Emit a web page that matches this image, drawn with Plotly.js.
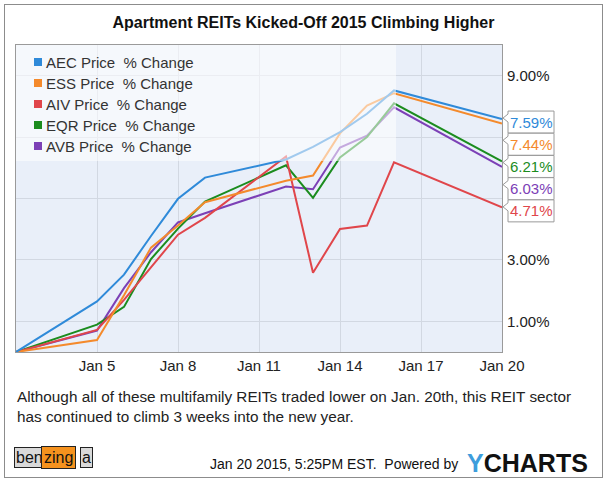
<!DOCTYPE html>
<html>
<head>
<meta charset="utf-8">
<script src="https://cdn.plot.ly/plotly-3.0.1.min.js"></script>
<style>
html,body{margin:0;padding:0;background:#fff;}
#wrap{position:relative;width:607px;height:482px;}
#chart{width:607px;height:482px;}
#frame{position:absolute;left:4px;top:4px;width:597px;height:472px;border:1px solid #8c8c8c;pointer-events:none;}
</style>
</head>
<body>
<div id="wrap"><div id="chart"></div><div id="frame"></div></div>
<script>
// ---- data ----
const dates = ['2015-01-02','2015-01-05','2015-01-06','2015-01-07','2015-01-08','2015-01-09','2015-01-12','2015-01-13','2015-01-14','2015-01-15','2015-01-16','2015-01-20'];
const seriesNames = ['AEC Price  % Change','ESS Price  % Change','AIV Price  % Change','EQR Price  % Change','AVB Price  % Change'];
const aec = [0, 1.65, 2.52, 3.78, 4.99, 5.68, 6.27, 6.68, 7.16, 7.76, 8.52, 7.59];
const ess = [0, 0.39, 1.85, 3.40, 4.12, 4.88, 5.58, 5.75, 7.12, 8.03, 8.43, 7.44];
const aiv = [0, 0.72, 1.70, 2.76, 3.82, 4.37, 6.37, 2.58, 4.01, 4.12, 6.18, 4.71];
const eqr = [0, 0.89, 1.47, 3.03, 4.02, 4.90, 6.08, 5.02, 6.34, 7.00, 8.10, 6.21];
const avb = [0, 0.70, 2.08, 3.25, 4.22, 4.52, 5.39, 5.30, 6.66, 7.05, 7.97, 6.03];
const yTickVals = [1, 3, 5, 7, 9];
const yTickText = ['1.00%', '3.00%', '', '', '9.00%'];
const xTickVals = ['2015-01-05','2015-01-08','2015-01-11','2015-01-14','2015-01-17','2015-01-20'];
const xTickText = ['Jan 5','Jan 8','Jan 11','Jan 14','Jan 17','Jan 20'];

// ---- styles ----
const colors = ['#2f8ad9', '#f48a2c', '#e0464b', '#1b8c1e', '#7c40b6'];
const allSeries = [aec, ess, aiv, eqr, avb];

const W = 607, H = 482;
const M = {l: 16, r: 105, t: 45, b: 130};
const PW = W - M.l - M.r, PH = H - M.t - M.b;
const px2x = p => (p - M.l) / PW;          // pixel -> paper x
const py2y = p => (H - M.b - p) / PH;      // pixel -> paper y

const traces = [];
// draw order: reverse so AEC is on top
for (let i = allSeries.length - 1; i >= 0; i--) {
  traces.push({
    type: 'scatter', mode: 'lines', name: seriesNames[i],
    x: dates, y: allSeries[i],
    line: {color: colors[i], width: 2},
    hoverinfo: 'skip', showlegend: false
  });
}

const shapes = [];
const annotations = [];

// semi-transparent legend panel over the data
shapes.push({type: 'rect', xref: 'paper', yref: 'paper', layer: 'above',
  x0: 0, x1: px2x(396), y0: py2y(161), y1: 1,
  fillcolor: 'rgba(255,255,255,0.55)', line: {width: 0}});

// custom legend
seriesNames.forEach((nm, i) => {
  const cy = 62 + i * 21;
  shapes.push({type: 'rect', xref: 'paper', yref: 'paper', layer: 'above',
    x0: px2x(34), x1: px2x(42), y0: py2y(cy + 4), y1: py2y(cy - 4),
    fillcolor: colors[i], line: {width: 0}});
  annotations.push({xref: 'paper', yref: 'paper', x: px2x(44), y: py2y(cy),
    xanchor: 'left', yanchor: 'middle', showarrow: false, text: nm,
    font: {family: 'Liberation Sans, Arial, sans-serif', size: 15, color: '#333'}});
});

// last-value labels on the right, stacked to avoid overlap
const lastVals = allSeries.map(s => s[s.length - 1]);
const order = lastVals.map((v, i) => i).sort((a, b) => lastVals[b] - lastVals[a]);
const gap = 22.2 * 10 / PH;
let prev = null;
order.forEach(i => {
  let pos = lastVals[i] - 0.1;
  if (prev !== null) pos = Math.min(pos, prev - gap);
  prev = pos;
  shapes.push({type: 'path', xref: 'paper', yref: 'y', layer: 'above',
    xsizemode: 'pixel', ysizemode: 'pixel', xanchor: 1, yanchor: pos,
    path: 'M6,11 L52,11 L52,-11 L6,-11 L6,0 L1,4 L6,8 Z',
    fillcolor: '#ffffff', line: {color: '#9a9a9a', width: 1}});
  annotations.push({xref: 'paper', yref: 'y', x: px2x(531), y: pos,
    xanchor: 'center', yanchor: 'middle', showarrow: false,
    text: lastVals[i].toFixed(2) + '%',
    font: {family: 'Liberation Sans Narrow, Arial Narrow, Arial, sans-serif', size: 15, color: colors[i]}});
});

// caption
annotations.push({xref: 'paper', yref: 'paper', x: px2x(15), y: py2y(406),
  xanchor: 'left', yanchor: 'middle', showarrow: false, align: 'left',
  text: 'Although all of these multifamily REITs traded lower on Jan. 20th, this REIT sector<br>has continued to climb 3 weeks into the new year.',
  font: {family: 'Liberation Sans, Arial, sans-serif', size: 15.3, color: '#222'}});

// footer
annotations.push({xref: 'paper', yref: 'paper', x: px2x(460), y: py2y(464),
  xanchor: 'right', yanchor: 'middle', showarrow: false,
  text: 'Jan 20 2015, 5:25PM EST.  Powered by',
  font: {family: 'Liberation Sans, Arial, sans-serif', size: 14, color: '#111'}});
annotations.push({xref: 'paper', yref: 'paper', x: px2x(465), y: py2y(463),
  xanchor: 'left', yanchor: 'middle', showarrow: false,
  text: '<span style="color:#3d9ddc">Y</span>CHARTS',
  font: {family: 'Liberation Sans, Arial, sans-serif', size: 25, color: '#111', weight: 'bold'}});

// benzinga logo approximation
annotations.push({xref: 'paper', yref: 'paper', x: px2x(14), y: py2y(457),
  xanchor: 'left', yanchor: 'middle', showarrow: false, text: 'ben',
  bgcolor: '#d9d9d9', bordercolor: '#222', borderwidth: 1, borderpad: 1,
  font: {family: 'Liberation Sans, Arial, sans-serif', size: 16, color: '#111'}});
annotations.push({xref: 'paper', yref: 'paper', x: px2x(41), y: py2y(457),
  xanchor: 'left', yanchor: 'middle', showarrow: false, text: 'zing',
  bgcolor: '#f5921e', bordercolor: '#222', borderwidth: 1, borderpad: 2,
  font: {family: 'Liberation Sans, Arial, sans-serif', size: 16, color: '#111'}});
annotations.push({xref: 'paper', yref: 'paper', x: px2x(80), y: py2y(457),
  xanchor: 'left', yanchor: 'middle', showarrow: false, text: 'a',
  bgcolor: '#d9d9d9', bordercolor: '#222', borderwidth: 1, borderpad: 1,
  font: {family: 'Liberation Sans, Arial, sans-serif', size: 16, color: '#111'}});

const layout = {
  width: W, height: H,
  margin: M,
  paper_bgcolor: '#ffffff',
  plot_bgcolor: '#e9eff9',
  showlegend: false,
  hovermode: false,
  title: {text: '<b>Apartment REITs Kicked-Off 2015 Climbing Higher</b>',
    x: 0.5, xref: 'container', y: 1 - 22 / H, yanchor: 'middle',
    font: {family: 'Liberation Sans, Arial, sans-serif', size: 16, color: '#111'}},
  xaxis: {type: 'date', range: ['2015-01-02', '2015-01-20'],
    tickvals: xTickVals, ticktext: xTickText,
    showgrid: true, gridcolor: '#d2d8e2', gridwidth: 1,
    showline: true, linecolor: '#9a9a9a', linewidth: 1, mirror: true,
    zeroline: false, ticks: '',
    tickfont: {family: 'Liberation Sans, Arial, sans-serif', size: 15, color: '#222'}},
  yaxis: {range: [0, 10], side: 'right',
    tickvals: yTickVals, ticktext: yTickText,
    showgrid: true, gridcolor: '#d2d8e2', gridwidth: 1,
    showline: true, linecolor: '#9a9a9a', linewidth: 1, mirror: true,
    zeroline: false, ticks: '', ticklabelstandoff: 1,
    tickfont: {family: 'Liberation Sans, Arial, sans-serif', size: 15, color: '#222'}},
  shapes: shapes,
  annotations: annotations
};

Plotly.newPlot('chart', traces, layout, {displayModeBar: false, staticPlot: true});
</script>
</body>
</html>
